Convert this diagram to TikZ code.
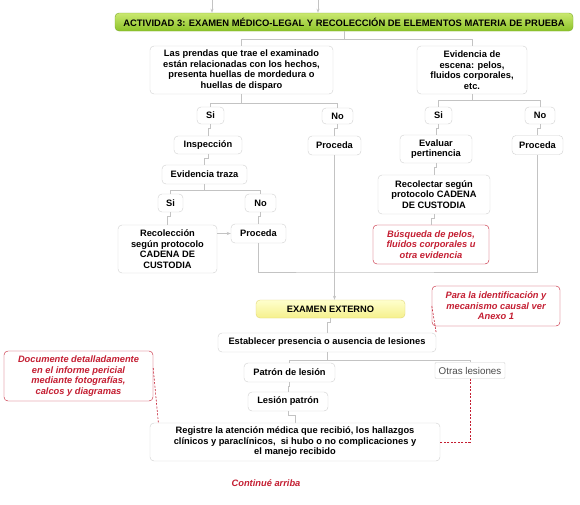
\documentclass[tikz,border=0pt]{standalone}
\usepackage{fontspec}
\setmainfont{Liberation Sans}
\usetikzlibrary{arrows.meta}
\definecolor{linegray}{RGB}{195,195,195}
\definecolor{boxgray}{RGB}{208,208,208}
\definecolor{notered}{RGB}{196,30,50}
\definecolor{bannertop}{RGB}{202,232,112}
\definecolor{bannerbot}{RGB}{140,195,40}
\definecolor{bannerline}{RGB}{125,170,45}
\definecolor{yellowtop}{RGB}{255,255,205}
\definecolor{yellowbot}{RGB}{245,240,140}
\definecolor{yellowline}{RGB}{225,215,120}
\begin{document}
\begin{tikzpicture}[x=1pt, y=-1pt,
  box/.style={draw=boxgray, fill=white, rounded corners=4pt, align=center, inner sep=1pt,
    font=\fontsize{9.3}{10.5}\selectfont\bfseries},
  note/.style={box, draw=notered, text=notered, font=\fontsize{9.3}{10.5}\selectfont\bfseries\itshape},
  banner/.style={box, draw=bannerline, top color=bannertop, bottom color=bannerbot,
    font=\fontsize{9.4}{10}\selectfont\bfseries},
  yellowbox/.style={box, draw=yellowline, top color=yellowtop, bottom color=yellowbot},
  plainbox/.style={draw=boxgray, fill=white, rounded corners=1pt, inner sep=1pt,
    text=black!70, font=\fontsize{9.8}{10.5}\selectfont},
  link/.style={draw=linegray, line width=0.6pt},
  arrowlink/.style={-{Stealth[length=4pt,width=3pt]}},
  redlink/.style={draw=notered, line width=0.6pt, dash pattern=on 2pt off 1.5pt}]
  \fill[white] (0,0) rectangle (580,504);
  \useasboundingbox (0,0) rectangle (580,504);
  % title
  \node[banner, minimum width=458pt, minimum height=18pt] (banner) at (344,22)
    {ACTIVIDAD 3: EXAMEN MÉDICO-LEGAL Y RECOLECCIÓN DE ELEMENTOS MATERIA DE PRUEBA};
  \coordinate (top1) at (212,0);
  \coordinate (top2) at (318,0);
  % left branch
  \node[box, minimum width=183pt, minimum height=48pt] (prendas) at (241.5,70)
    {Las prendas que trae el examinado\\están relacionadas con los hechos,\\presenta huellas de mordedura o\\huellas de disparo};
  \node[box, minimum width=27pt, minimum height=17pt] (si1) at (210.5,115.5) {Si};
  \node[box, minimum width=31pt, minimum height=16pt] (no1) at (337.5,116) {No};
  \node[box, minimum width=68pt, minimum height=18pt] (insp) at (208,145) {Inspección};
  \node[box, minimum width=53pt, minimum height=19pt] (proc1) at (334.5,145.5) {Proceda};
  \node[box, minimum width=85pt, minimum height=19pt] (traza) at (204.5,174.5) {Evidencia traza};
  \node[box, minimum width=25pt, minimum height=18pt] (si2) at (170.5,203) {Si};
  \node[box, minimum width=31pt, minimum height=18pt] (no2) at (260.5,203) {No};
  \node[box, minimum width=99pt, minimum height=48pt] (recol) at (167.5,249)
    {Recolección\\según protocolo\\CADENA DE\\CUSTODIA};
  \node[box, minimum width=55pt, minimum height=19pt] (proc2) at (258.5,233.5) {Proceda};
  % right branch
  \node[box, minimum width=110pt, minimum height=48pt] (escena) at (472,70)
    {Evidencia de\\escena: pelos,\\fluidos corporales,\\etc.};
  \node[box, minimum width=27pt, minimum height=17pt] (si3) at (438.5,115.5) {Si};
  \node[box, minimum width=30pt, minimum height=17pt] (no3) at (540,115.5) {No};
  \node[box, minimum width=72pt, minimum height=28pt] (evaluar) at (436,149) {Evaluar\\pertinencia};
  \node[box, minimum width=51pt, minimum height=19pt] (proc3) at (537.5,145) {Proceda};
  \node[box, minimum width=112pt, minimum height=39pt] (recolectar) at (434,194.5)
    {Recolectar según\\protocolo CADENA\\DE CUSTODIA};
  \node[note, minimum width=116pt, minimum height=39pt] (busqueda) at (431,244.5)
    {Búsqueda de pelos,\\fluidos corporales u\\otra evidencia};
  % examen externo
  \node[yellowbox, minimum width=149pt, minimum height=18pt] (externo) at (330.5,309) {EXAMEN EXTERNO};
  \node[note, minimum width=128pt, minimum height=40pt] (anexo) at (496,306)
    {Para la identificación y\\mecanismo causal ver\\Anexo 1};
  \node[box, minimum width=218pt, minimum height=19pt] (establecer) at (327,342.5)
    {Establecer presencia o ausencia de lesiones};
  \node[box, minimum width=91pt, minimum height=19pt] (patron) at (289.5,372.5) {Patrón de lesión};
  \node[plainbox, minimum width=70pt, minimum height=16pt] (otras) at (470,370.5) {Otras lesiones};
  \node[box, minimum width=80pt, minimum height=19pt] (lesion) at (288,401.5) {Lesión patrón};
  \node[box, minimum width=290pt, minimum height=38pt] (registre) at (295,442)
    {Registre la atención médica que recibió, los hallazgos\\clínicos y paraclínicos,\ \ si hubo o no complicaciones y\\el manejo recibido};
  \node[note, minimum width=149pt, minimum height=50pt] (documente) at (78.5,376)
    {Documente detalladamente\\en el informe pericial\\mediante fotografías,\\calcos y diagramas};
  \node[text=notered, font=\fontsize{9.3}{10.5}\selectfont\bfseries\itshape] (continua) at (266,483) {Continué arriba};
  % connectors
  \foreach \t in {top1,top2}
    \draw[link, arrowlink] (\t) -- (\t |- banner.north);
  \foreach \p/\a/\b/\d in {banner/prendas/escena/8, prendas/si1/no1/9, escena/si3/no3/6,
      traza/si2/no2/6, establecer/patron/otras/8} {
    \draw[link] (\p.south) -- ++(0,\d) coordinate (bar);
    \draw[link] (\a.north) |- (bar) -| (\b.north);
  }
  \foreach \a/\b in {si1/insp, insp/traza, si2/recol, no2/proc2, no1/proc1, si3/evaluar,
      evaluar/recolectar, recolectar/busqueda, no3/proc3, externo/establecer, patron/lesion, lesion/registre}
    \draw[link] (\a.south) -- ++(0,4) -| (\b.north);
  \draw[link, arrowlink] (recol.east |- proc2.west) -- (proc2.west);
  \coordinate (merge) at (333,272);
  \draw[link] (proc2.south) |- (merge) -| (proc3.south);
  \draw[link, arrowlink] (proc1.south) -- (proc1.south |- externo.north);
  % notes
  \draw[redlink] (anexo.west) -- (establecer.north east);
  \draw[redlink] (otras.south) |- (registre.east);
  \draw[redlink] (documente.6) -- (registre.172);
\end{tikzpicture}
\end{document}
